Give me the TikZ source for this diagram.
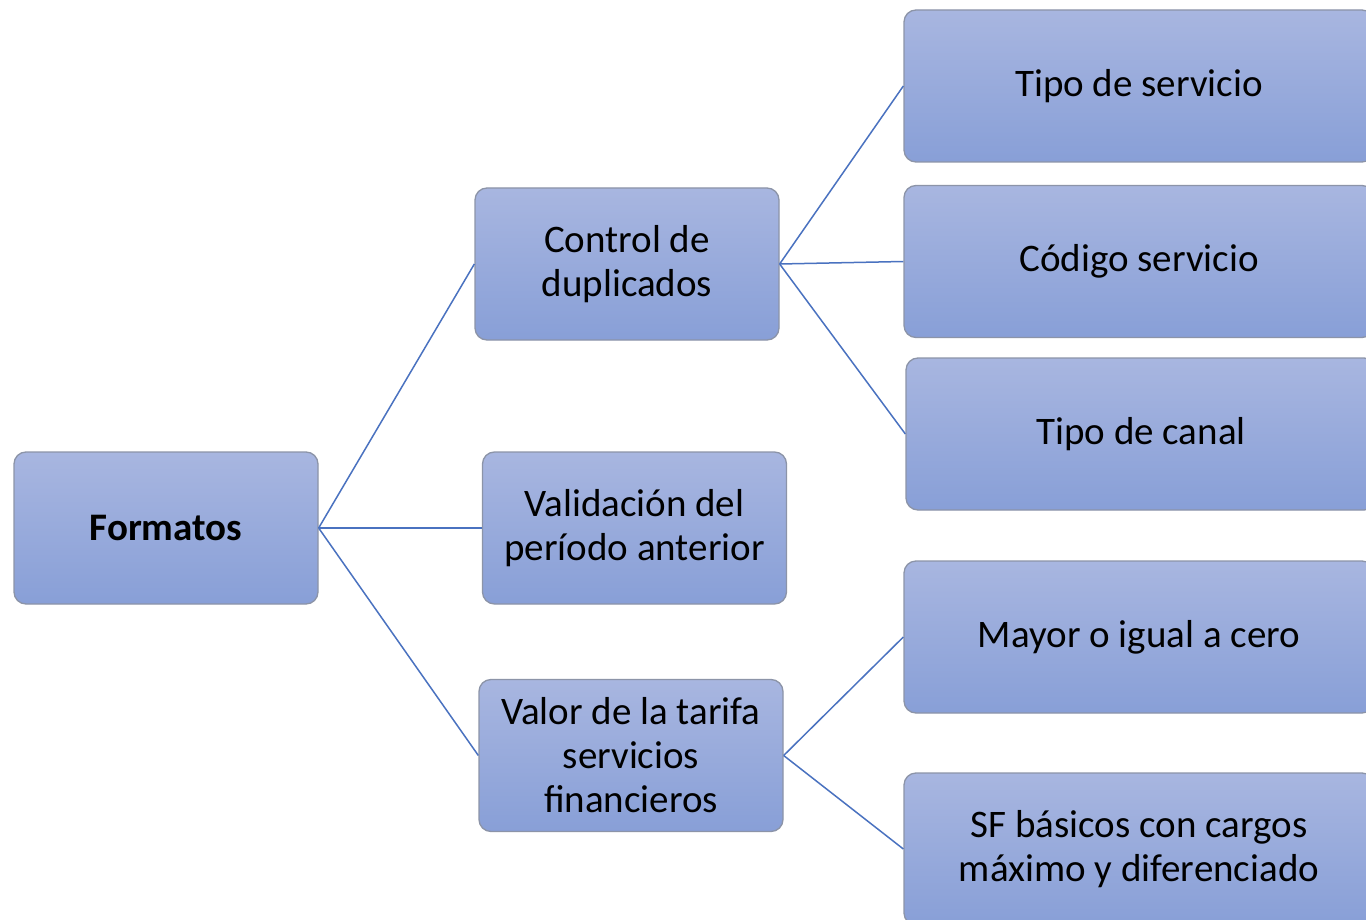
\documentclass[tikz,border=0pt]{standalone}
\usepackage{fontspec}
\setmainfont{Carlito}
\definecolor{boxtop}{HTML}{A8B6E0}
\definecolor{boxbot}{HTML}{889FD7}
\definecolor{boxedge}{HTML}{8C94A8}
\definecolor{linkblue}{HTML}{4A72C0}
\tikzset{
  bx/.style={rectangle, rounded corners=12pt, draw=boxedge, line width=1.3pt,
    top color=boxtop, bottom color=boxbot, align=center,
    font=\fontsize{39}{44}\selectfont, text=black, inner sep=0pt},
  midbox/.style={bx, minimum width=304pt, minimum height=152pt},
  rightbox/.style={bx, minimum width=470pt, minimum height=152pt},
  link/.style={draw=linkblue, line width=1.5pt}
}
\begin{document}
\begin{tikzpicture}[x=1pt,y=-1pt]
\useasboundingbox (0,0) rectangle (1366,920);
\clip (0,0) rectangle (1366,920);
\fill[white] (0,0) rectangle (1366,920);
\node[midbox] (fmt) at (166,528) {\textbf{Formatos}};
\node[midbox] (ctl) at (627,264) {Control de\\duplicados};
\node[midbox] (val) at (634.5,528) {Validación del\\período anterior};
\node[midbox] (tar) at (631,755.5) {Valor de la tarifa\\servicios\\financieros};
\node[rightbox] (tip) at (1139,86) {Tipo de servicio};
\node[rightbox] (cod) at (1139,261.5) {Código servicio};
\node[rightbox] (can) at (1141,434) {Tipo de canal};
\node[rightbox] (may) at (1139,637) {Mayor o igual a cero};
\node[rightbox] (sfb) at (1139,849) {SF básicos con cargos\\máximo y diferenciado};
\draw[link] (fmt.east) -- (ctl.west);
\draw[link] (fmt.east) -- (val.west);
\draw[link] (fmt.east) -- (tar.west);
\draw[link] (ctl.east) -- (tip.west);
\draw[link] (ctl.east) -- (cod.west);
\draw[link] (ctl.east) -- (can.west);
\draw[link] (tar.east) -- (may.west);
\draw[link] (tar.east) -- (sfb.west);
\end{tikzpicture}
\end{document}
